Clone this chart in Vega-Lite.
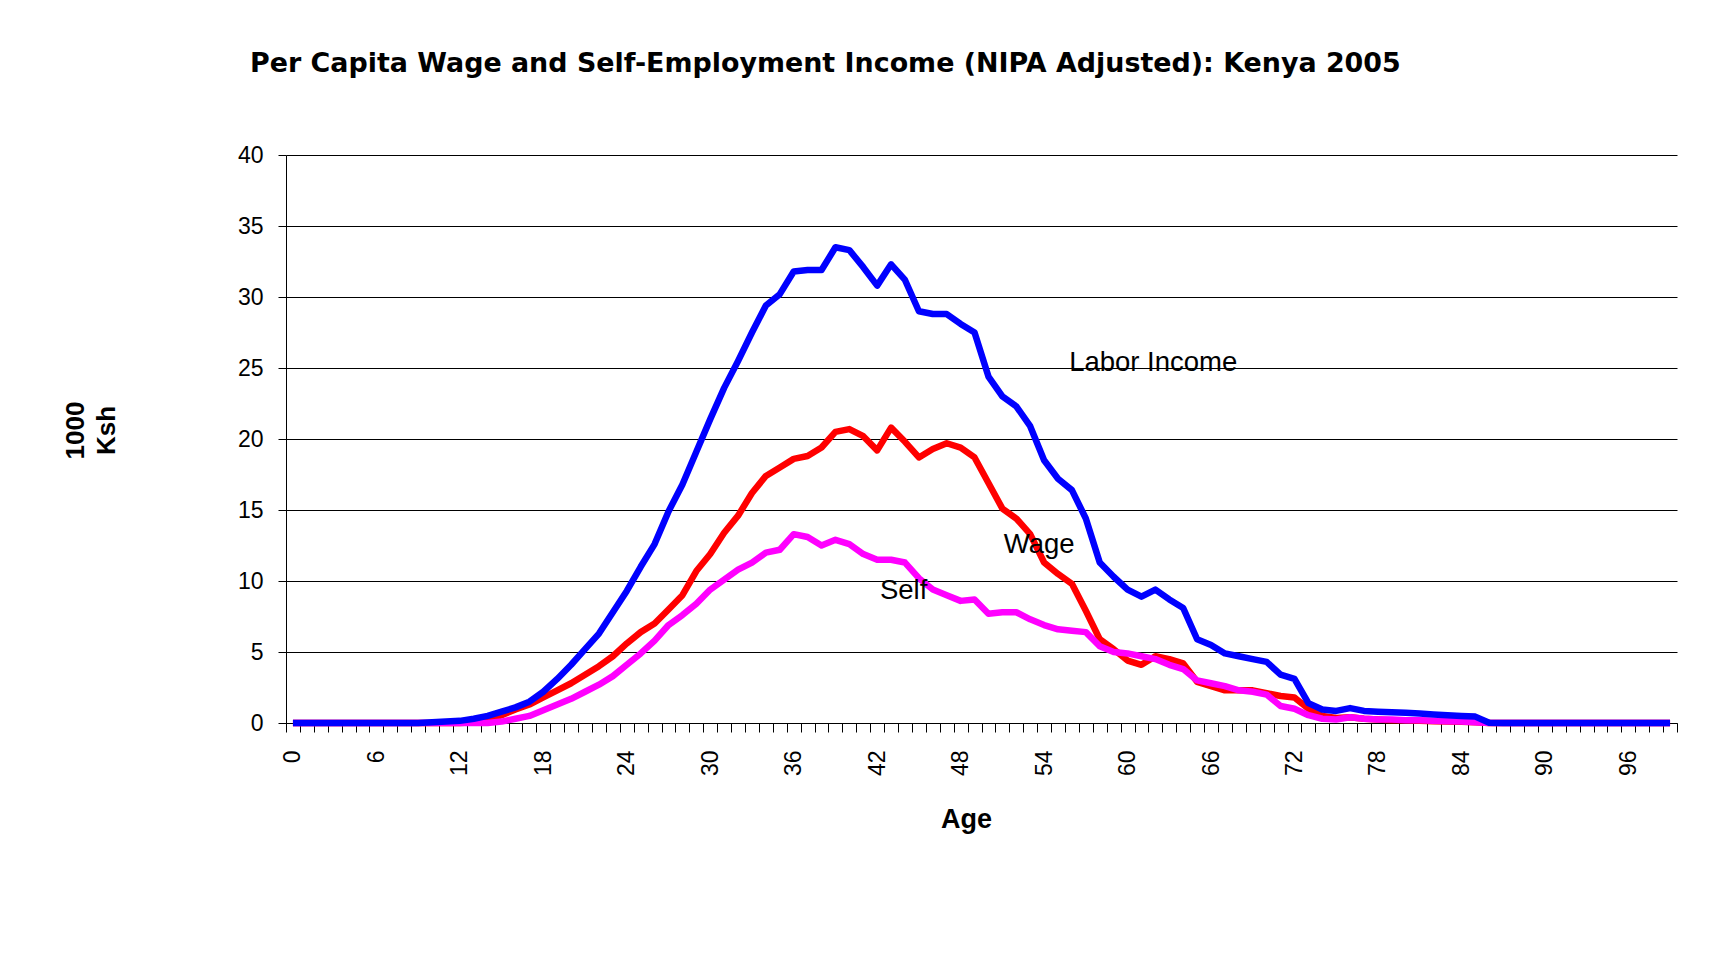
{
  "$schema": "https://vega.github.io/schema/vega-lite/v6.json",
  "width": 1391,
  "height": 568,
  "autosize": {"type": "none"},
  "padding": {"left": 286, "top": 155, "right": 57, "bottom": 233},
  "background": "white",
  "config": {
    "view": {"stroke": null},
    "font": "Liberation Sans",
    "axis": {"labelFont": "Liberation Sans", "titleFont": "Liberation Sans", "labelColor": "black", "titleColor": "black", "domainColor": "black", "tickColor": "black", "gridColor": "black", "domainWidth": 1, "tickWidth": 1, "gridWidth": 1}
  },
  "title": {
    "text": "Per Capita Wage and Self-Employment Income (NIPA Adjusted): Kenya 2005",
    "font": "DejaVu Sans",
    "fontSize": 26.9,
    "fontWeight": "bold",
    "color": "black",
    "anchor": "start",
    "frame": "group",
    "dx": -36,
    "baseline": "alphabetic",
    "offset": 45
  },
  "data": {
    "values": [
      {"age": 0, "labor": 0, "wage": 0, "self": 0},
      {"age": 1, "labor": 0, "wage": 0, "self": 0},
      {"age": 2, "labor": 0, "wage": 0, "self": 0},
      {"age": 3, "labor": 0, "wage": 0, "self": 0},
      {"age": 4, "labor": 0, "wage": 0, "self": 0},
      {"age": 5, "labor": 0, "wage": 0, "self": 0},
      {"age": 6, "labor": 0, "wage": 0, "self": 0},
      {"age": 7, "labor": 0, "wage": 0, "self": 0},
      {"age": 8, "labor": 0, "wage": 0, "self": 0},
      {"age": 9, "labor": 0, "wage": 0, "self": 0},
      {"age": 10, "labor": 0.05, "wage": 0, "self": 0},
      {"age": 11, "labor": 0.1, "wage": 0, "self": 0},
      {"age": 12, "labor": 0.15, "wage": 0, "self": 0},
      {"age": 13, "labor": 0.3, "wage": 0.05, "self": 0},
      {"age": 14, "labor": 0.5, "wage": 0.2, "self": 0},
      {"age": 15, "labor": 0.8, "wage": 0.55, "self": 0.1},
      {"age": 16, "labor": 1.1, "wage": 0.95, "self": 0.3},
      {"age": 17, "labor": 1.5, "wage": 1.3, "self": 0.5},
      {"age": 18, "labor": 2.2, "wage": 1.8, "self": 0.9},
      {"age": 19, "labor": 3.1, "wage": 2.3, "self": 1.3},
      {"age": 20, "labor": 4.1, "wage": 2.8, "self": 1.7},
      {"age": 21, "labor": 5.2, "wage": 3.4, "self": 2.2},
      {"age": 22, "labor": 6.3, "wage": 4.0, "self": 2.7},
      {"age": 23, "labor": 7.8, "wage": 4.7, "self": 3.3},
      {"age": 24, "labor": 9.3, "wage": 5.6, "self": 4.1},
      {"age": 25, "labor": 11.0, "wage": 6.4, "self": 4.9},
      {"age": 26, "labor": 12.6, "wage": 7.0, "self": 5.8},
      {"age": 27, "labor": 14.9, "wage": 8.0, "self": 6.9},
      {"age": 28, "labor": 16.8, "wage": 9.0, "self": 7.6},
      {"age": 29, "labor": 19.1, "wage": 10.7, "self": 8.4},
      {"age": 30, "labor": 21.4, "wage": 11.9, "self": 9.4},
      {"age": 31, "labor": 23.6, "wage": 13.4, "self": 10.1},
      {"age": 32, "labor": 25.5, "wage": 14.6, "self": 10.8},
      {"age": 33, "labor": 27.5, "wage": 16.2, "self": 11.3},
      {"age": 34, "labor": 29.4, "wage": 17.4, "self": 12.0},
      {"age": 35, "labor": 30.2, "wage": 18.0, "self": 12.2},
      {"age": 36, "labor": 31.8, "wage": 18.6, "self": 13.3},
      {"age": 37, "labor": 31.9, "wage": 18.8, "self": 13.1},
      {"age": 38, "labor": 31.9, "wage": 19.4, "self": 12.5},
      {"age": 39, "labor": 33.5, "wage": 20.5, "self": 12.9},
      {"age": 40, "labor": 33.3, "wage": 20.7, "self": 12.6},
      {"age": 41, "labor": 32.1, "wage": 20.2, "self": 11.9},
      {"age": 42, "labor": 30.8, "wage": 19.2, "self": 11.5},
      {"age": 43, "labor": 32.3, "wage": 20.8, "self": 11.5},
      {"age": 44, "labor": 31.2, "wage": 19.8, "self": 11.3},
      {"age": 45, "labor": 29.0, "wage": 18.7, "self": 10.2},
      {"age": 46, "labor": 28.8, "wage": 19.3, "self": 9.4},
      {"age": 47, "labor": 28.8, "wage": 19.7, "self": 9.0},
      {"age": 48, "labor": 28.1, "wage": 19.4, "self": 8.6},
      {"age": 49, "labor": 27.5, "wage": 18.7, "self": 8.7},
      {"age": 50, "labor": 24.4, "wage": 16.9, "self": 7.7},
      {"age": 51, "labor": 23.0, "wage": 15.1, "self": 7.8},
      {"age": 52, "labor": 22.3, "wage": 14.4, "self": 7.8},
      {"age": 53, "labor": 20.9, "wage": 13.3, "self": 7.3},
      {"age": 54, "labor": 18.5, "wage": 11.3, "self": 6.9},
      {"age": 55, "labor": 17.2, "wage": 10.5, "self": 6.6},
      {"age": 56, "labor": 16.4, "wage": 9.8, "self": 6.5},
      {"age": 57, "labor": 14.4, "wage": 7.9, "self": 6.4},
      {"age": 58, "labor": 11.3, "wage": 5.9, "self": 5.4},
      {"age": 59, "labor": 10.3, "wage": 5.2, "self": 5.0},
      {"age": 60, "labor": 9.4, "wage": 4.4, "self": 4.9},
      {"age": 61, "labor": 8.9, "wage": 4.1, "self": 4.7},
      {"age": 62, "labor": 9.4, "wage": 4.7, "self": 4.5},
      {"age": 63, "labor": 8.7, "wage": 4.5, "self": 4.1},
      {"age": 64, "labor": 8.1, "wage": 4.2, "self": 3.8},
      {"age": 65, "labor": 5.9, "wage": 2.9, "self": 3.0},
      {"age": 66, "labor": 5.5, "wage": 2.6, "self": 2.8},
      {"age": 67, "labor": 4.9, "wage": 2.3, "self": 2.6},
      {"age": 68, "labor": 4.7, "wage": 2.3, "self": 2.3},
      {"age": 69, "labor": 4.5, "wage": 2.3, "self": 2.2},
      {"age": 70, "labor": 4.3, "wage": 2.1, "self": 2.0},
      {"age": 71, "labor": 3.4, "wage": 1.9, "self": 1.2},
      {"age": 72, "labor": 3.1, "wage": 1.8, "self": 1.0},
      {"age": 73, "labor": 1.4, "wage": 1.0, "self": 0.55},
      {"age": 74, "labor": 0.95, "wage": 0.5, "self": 0.3},
      {"age": 75, "labor": 0.85, "wage": 0.35, "self": 0.25},
      {"age": 76, "labor": 1.05, "wage": 0.4, "self": 0.4},
      {"age": 77, "labor": 0.85, "wage": 0.3, "self": 0.3},
      {"age": 78, "labor": 0.8, "wage": 0.25, "self": 0.25},
      {"age": 79, "labor": 0.75, "wage": 0.2, "self": 0.25},
      {"age": 80, "labor": 0.72, "wage": 0.2, "self": 0.2},
      {"age": 81, "labor": 0.67, "wage": 0.15, "self": 0.2},
      {"age": 82, "labor": 0.6, "wage": 0.12, "self": 0.15},
      {"age": 83, "labor": 0.55, "wage": 0.1, "self": 0.12},
      {"age": 84, "labor": 0.5, "wage": 0.08, "self": 0.1},
      {"age": 85, "labor": 0.45, "wage": 0.05, "self": 0.05},
      {"age": 86, "labor": 0.02, "wage": 0, "self": 0},
      {"age": 87, "labor": 0, "wage": 0, "self": 0},
      {"age": 88, "labor": 0, "wage": 0, "self": 0},
      {"age": 89, "labor": 0, "wage": 0, "self": 0},
      {"age": 90, "labor": 0, "wage": 0, "self": 0},
      {"age": 91, "labor": 0, "wage": 0, "self": 0},
      {"age": 92, "labor": 0, "wage": 0, "self": 0},
      {"age": 93, "labor": 0, "wage": 0, "self": 0},
      {"age": 94, "labor": 0, "wage": 0, "self": 0},
      {"age": 95, "labor": 0, "wage": 0, "self": 0},
      {"age": 96, "labor": 0, "wage": 0, "self": 0},
      {"age": 97, "labor": 0, "wage": 0, "self": 0},
      {"age": 98, "labor": 0, "wage": 0, "self": 0},
      {"age": 99, "labor": 0, "wage": 0, "self": 0}
    ]
  },
  "encoding": {
    "x": {
      "field": "age",
      "type": "quantitative",
      "scale": {"domain": [-0.5, 99.5], "nice": false, "zero": false},
      "axis": {
        "title": "Age",
        "titleFontSize": 27,
        "titleFontWeight": "bold",
        "titleX": 680,
        "titleY": 104,
        "titleAlign": "center",
        "titleBaseline": "alphabetic",
        "grid": false,
        "values": [-0.5, 0.5, 1.5, 2.5, 3.5, 4.5, 5.5, 6.5, 7.5, 8.5, 9.5, 10.5, 11.5, 12.5, 13.5, 14.5, 15.5, 16.5, 17.5, 18.5, 19.5, 20.5, 21.5, 22.5, 23.5, 24.5, 25.5, 26.5, 27.5, 28.5, 29.5, 30.5, 31.5, 32.5, 33.5, 34.5, 35.5, 36.5, 37.5, 38.5, 39.5, 40.5, 41.5, 42.5, 43.5, 44.5, 45.5, 46.5, 47.5, 48.5, 49.5, 50.5, 51.5, 52.5, 53.5, 54.5, 55.5, 56.5, 57.5, 58.5, 59.5, 60.5, 61.5, 62.5, 63.5, 64.5, 65.5, 66.5, 67.5, 68.5, 69.5, 70.5, 71.5, 72.5, 73.5, 74.5, 75.5, 76.5, 77.5, 78.5, 79.5, 80.5, 81.5, 82.5, 83.5, 84.5, 85.5, 86.5, 87.5, 88.5, 89.5, 90.5, 91.5, 92.5, 93.5, 94.5, 95.5, 96.5, 97.5, 98.5, 99.5],
        "labelExpr": "((datum.value + 0.5) % 6 == 0 && datum.value < 99) ? format(datum.value + 0.5, 'd') : ''",
        "labelOffset": 6.96,
        "labelAngle": -90,
        "labelAlign": "right",
        "labelBaseline": "middle",
        "labelFontSize": 23,
        "labelPadding": 18,
        "labelOverlap": false,
        "labelBound": false,
        "labelFlush": false,
        "tickSize": 9
      }
    },
    "y": {
      "field": "value",
      "type": "quantitative",
      "scale": {"domain": [0, 40], "nice": false},
      "axis": {
        "title": ["1000", "Ksh"],
        "titleFontSize": 26,
        "titleFontWeight": "bold",
        "titleAngle": -90,
        "titleX": -211,
        "titleY": 275,
        "titleAlign": "center",
        "titleBaseline": "middle",
        "titleLineHeight": 31,
        "values": [0, 5, 10, 15, 20, 25, 30, 35, 40],
        "grid": true,
        "labelFontSize": 23,
        "labelPadding": 15,
        "tickSize": 8
      }
    }
  },
  "layer": [
    {
      "transform": [{"fold": ["wage"], "as": ["series", "value"]}],
      "mark": {"type": "line", "color": "#FF0000", "strokeWidth": 6.5, "strokeJoin": "round"}
    },
    {
      "transform": [{"fold": ["self"], "as": ["series", "value"]}],
      "mark": {"type": "line", "color": "#FF00FF", "strokeWidth": 6.5, "strokeJoin": "round"}
    },
    {
      "transform": [{"fold": ["labor"], "as": ["series", "value"]}],
      "mark": {"type": "line", "color": "#0000FF", "strokeWidth": 6.5, "strokeJoin": "round"}
    },
    {
      "data": {
        "values": [
          {"age": 55.8, "value": 24.82, "label": "Labor Income"},
          {"age": 51.1, "value": 11.95, "label": "Wage"},
          {"age": 42.2, "value": 8.74, "label": "Self"}
        ]
      },
      "mark": {"type": "text", "align": "left", "baseline": "alphabetic", "fontSize": 27.5, "font": "Liberation Sans", "color": "black"},
      "encoding": {"text": {"field": "label"}}
    }
  ]
}
